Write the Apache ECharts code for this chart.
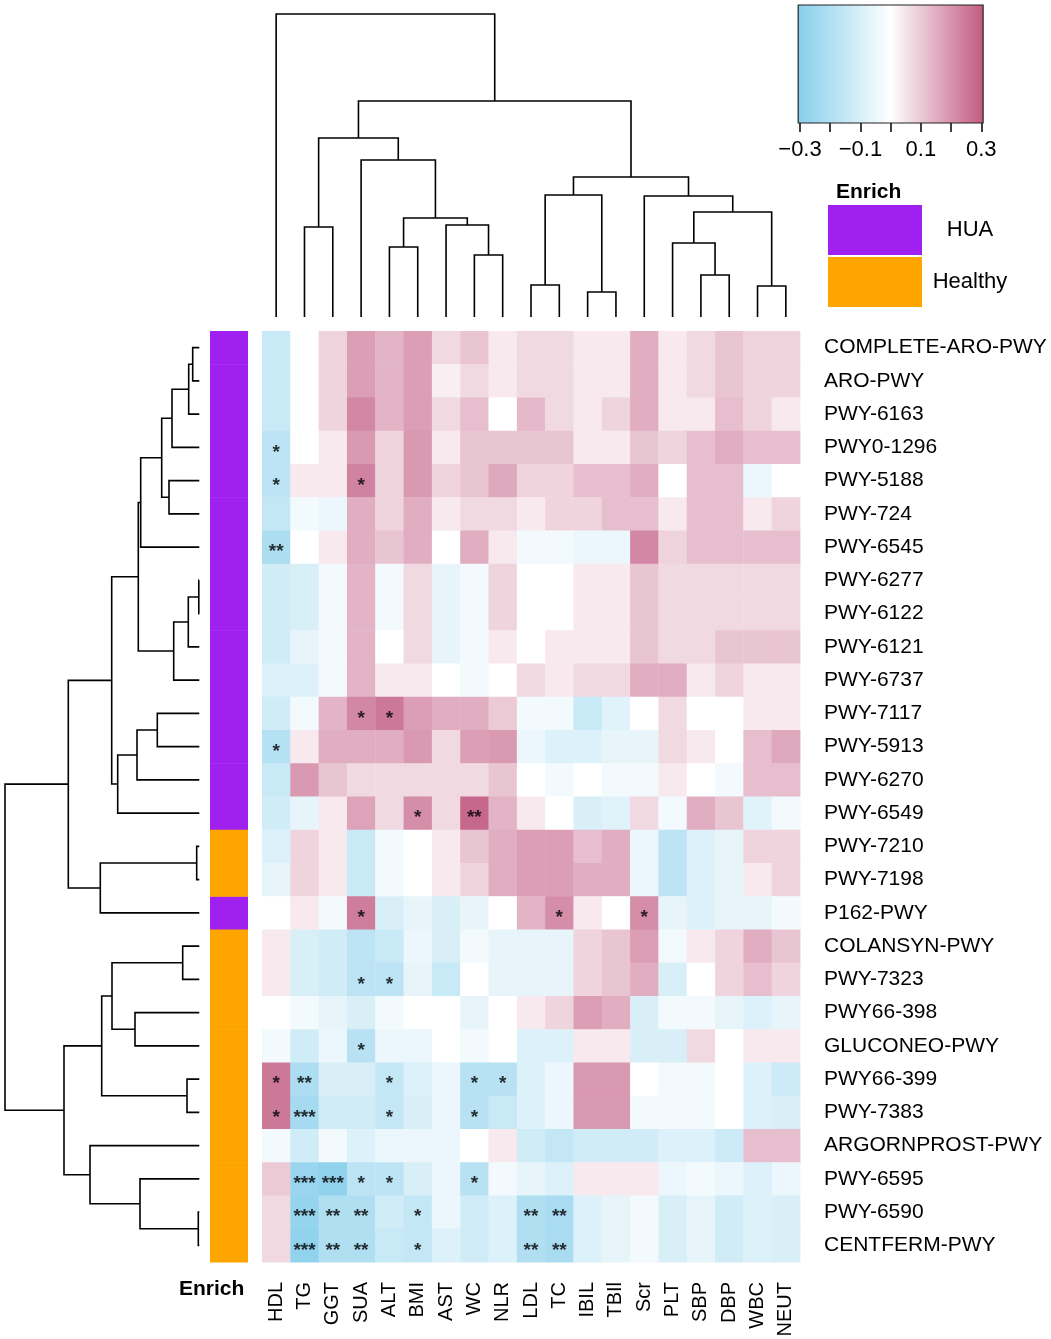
<!DOCTYPE html>
<html><head><meta charset="utf-8">
<script src="https://cdn.jsdelivr.net/npm/echarts/dist/echarts.min.js"></script>
<style>html,body{margin:0;padding:0;background:#fff}#c{width:1051px;height:1339px}</style>
</head><body><div id="c"></div>
<script>
const columns = ['HDL','TG','GGT','SUA','ALT','BMI','AST','WC','NLR','LDL','TC','IBIL','TBIl','Scr','PLT','SBP','DBP','WBC','NEUT'];
const pathways = ['COMPLETE-ARO-PWY','ARO-PWY','PWY-6163','PWY0-1296','PWY-5188','PWY-724','PWY-6545','PWY-6277','PWY-6122','PWY-6121','PWY-6737','PWY-7117','PWY-5913','PWY-6270','PWY-6549','PWY-7210','PWY-7198','P162-PWY','COLANSYN-PWY','PWY-7323','PWY66-398','GLUCONEO-PWY','PWY66-399','PWY-7383','ARGORNPROST-PWY','PWY-6595','PWY-6590','CENTFERM-PWY'];
const enrich = ['HUA','HUA','HUA','HUA','HUA','HUA','HUA','HUA','HUA','HUA','HUA','HUA','HUA','HUA','HUA','Healthy','Healthy','HUA','Healthy','Healthy','Healthy','Healthy','Healthy','Healthy','Healthy','Healthy','Healthy','Healthy'];
const enrichGroups = ['HUA','Healthy'];
const enrichColors = ['#A020F0','#FFA500'];

// correlation values, one row per pathway, columns in the order above
const values = [
 [-0.14, 0, 0.08, 0.18, 0.14, 0.18, 0.07, 0.11, 0.04, 0.07, 0.07, 0.04, 0.04, 0.15, 0.04, 0.07, 0.11, 0.08, 0.08],
 [-0.14, 0, 0.08, 0.18, 0.14, 0.18, 0.03, 0.07, 0.04, 0.07, 0.07, 0.04, 0.04, 0.15, 0.04, 0.07, 0.11, 0.08, 0.08],
 [-0.14, 0, 0.08, 0.22, 0.14, 0.18, 0.07, 0.12, 0, 0.13, 0.07, 0.04, 0.08, 0.15, 0.04, 0.04, 0.12, 0.08, 0.04],
 [-0.17, 0, 0.04, 0.19, 0.08, 0.19, 0.04, 0.11, 0.11, 0.11, 0.11, 0.04, 0.04, 0.11, 0.08, 0.12, 0.15, 0.12, 0.12],
 [-0.17, 0.04, 0.04, 0.23, 0.08, 0.19, 0.08, 0.11, 0.16, 0.08, 0.08, 0.12, 0.12, 0.15, 0, 0.12, 0.12, -0.05, 0],
 [-0.15, -0.03, -0.05, 0.15, 0.08, 0.15, 0.04, 0.07, 0.07, 0.04, 0.08, 0.08, 0.12, 0.12, 0.04, 0.12, 0.12, 0.04, 0.08],
 [-0.21, 0, 0.04, 0.15, 0.11, 0.15, 0, 0.15, 0.04, -0.03, -0.03, -0.05, -0.05, 0.22, 0.08, 0.12, 0.12, 0.12, 0.12],
 [-0.12, -0.1, -0.03, 0.14, -0.03, 0.07, -0.06, -0.03, 0.08, 0, 0, 0.04, 0.04, 0.11, 0.07, 0.07, 0.07, 0.07, 0.07],
 [-0.12, -0.1, -0.03, 0.14, -0.03, 0.07, -0.06, -0.03, 0.08, 0, 0, 0.04, 0.04, 0.11, 0.07, 0.07, 0.07, 0.07, 0.07],
 [-0.12, -0.06, -0.03, 0.14, 0, 0.07, -0.06, -0.03, 0.04, 0, 0.04, 0.04, 0.04, 0.11, 0.07, 0.07, 0.11, 0.11, 0.11],
 [-0.09, -0.09, -0.03, 0.14, 0.04, 0.04, 0, -0.03, 0, 0.07, 0.04, 0.07, 0.07, 0.15, 0.15, 0.04, 0.08, 0.04, 0.04],
 [-0.12, -0.03, 0.14, 0.22, 0.25, 0.18, 0.15, 0.15, 0.1, -0.03, -0.03, -0.14, -0.08, 0, 0.07, 0, 0, 0.04, 0.04],
 [-0.19, 0.04, 0.15, 0.15, 0.15, 0.19, 0.07, 0.18, 0.19, -0.05, -0.09, -0.09, -0.06, -0.06, 0.07, 0.04, 0, 0.12, 0.16],
 [-0.14, 0.19, 0.11, 0.07, 0.07, 0.07, 0.07, 0.07, 0.11, 0, -0.03, 0, -0.03, -0.03, 0.04, 0, -0.03, 0.12, 0.12],
 [-0.12, -0.06, 0.04, 0.17, 0.07, 0.21, 0.07, 0.28, 0.14, 0.04, 0, -0.1, -0.08, 0.07, -0.03, 0.15, 0.11, -0.08, -0.03],
 [-0.09, 0.08, 0.04, -0.14, -0.03, 0, 0.04, 0.11, 0.15, 0.18, 0.18, 0.12, 0.15, -0.05, -0.17, -0.09, -0.06, 0.08, 0.08],
 [-0.06, 0.08, 0.04, -0.14, -0.03, 0, 0.04, 0.08, 0.15, 0.18, 0.18, 0.15, 0.15, -0.05, -0.17, -0.09, -0.06, 0.04, 0.08],
 [0, 0.04, -0.03, 0.24, -0.1, -0.06, -0.1, -0.06, 0, 0.14, 0.21, 0.04, 0, 0.21, -0.06, -0.09, -0.06, -0.06, -0.03],
 [0.04, -0.1, -0.12, -0.17, -0.14, -0.05, -0.1, -0.03, -0.06, -0.06, -0.06, 0.08, 0.11, 0.18, -0.03, 0.04, 0.08, 0.15, 0.11],
 [0.04, -0.1, -0.12, -0.17, -0.17, -0.06, -0.14, 0, -0.06, -0.06, -0.06, 0.08, 0.11, 0.15, -0.1, 0, 0.08, 0.12, 0.08],
 [0, -0.03, -0.06, -0.1, -0.03, 0, 0, -0.06, 0, 0.04, 0.08, 0.18, 0.15, -0.1, -0.03, -0.03, -0.06, -0.09, -0.06],
 [-0.03, -0.12, -0.05, -0.18, -0.05, -0.05, 0, -0.03, 0, -0.09, -0.09, 0.04, 0.04, -0.1, -0.1, 0.07, 0, 0.04, 0.04],
 [0.25, -0.21, -0.1, -0.1, -0.15, -0.09, -0.05, -0.18, -0.18, -0.09, -0.05, 0.19, 0.19, 0, -0.03, -0.03, 0, -0.09, -0.13],
 [0.25, -0.23, -0.12, -0.12, -0.15, -0.1, -0.05, -0.18, -0.14, -0.09, -0.05, 0.19, 0.19, -0.03, -0.03, -0.03, 0, -0.09, -0.1],
 [-0.03, -0.12, -0.03, -0.09, -0.05, -0.05, -0.05, 0, 0.04, -0.12, -0.15, -0.12, -0.12, -0.12, -0.09, -0.09, -0.13, 0.12, 0.12],
 [0.1, -0.26, -0.28, -0.17, -0.17, -0.1, -0.05, -0.18, -0.03, -0.06, -0.09, 0.04, 0.04, 0.04, -0.05, -0.03, -0.05, -0.09, -0.05],
 [0.07, -0.27, -0.2, -0.2, -0.12, -0.15, -0.05, -0.12, -0.09, -0.2, -0.22, -0.09, -0.06, -0.03, -0.1, -0.06, -0.12, -0.09, -0.1],
 [0.07, -0.28, -0.2, -0.2, -0.14, -0.15, -0.09, -0.12, -0.09, -0.2, -0.22, -0.09, -0.06, -0.03, -0.1, -0.06, -0.12, -0.09, -0.1]
];

// significance marks: [pathway, column, mark]
const stars = [
 ['PWY0-1296','HDL','*'],
 ['PWY-5188','HDL','*'], ['PWY-5188','SUA','*'],
 ['PWY-6545','HDL','**'],
 ['PWY-7117','SUA','*'], ['PWY-7117','ALT','*'],
 ['PWY-5913','HDL','*'],
 ['PWY-6549','BMI','*'], ['PWY-6549','WC','**'],
 ['P162-PWY','SUA','*'], ['P162-PWY','TC','*'], ['P162-PWY','Scr','*'],
 ['PWY-7323','SUA','*'], ['PWY-7323','ALT','*'],
 ['GLUCONEO-PWY','SUA','*'],
 ['PWY66-399','HDL','*'], ['PWY66-399','TG','**'], ['PWY66-399','ALT','*'], ['PWY66-399','WC','*'], ['PWY66-399','NLR','*'],
 ['PWY-7383','HDL','*'], ['PWY-7383','TG','***'], ['PWY-7383','ALT','*'], ['PWY-7383','WC','*'],
 ['PWY-6595','TG','***'], ['PWY-6595','GGT','***'], ['PWY-6595','SUA','*'], ['PWY-6595','ALT','*'], ['PWY-6595','WC','*'],
 ['PWY-6590','TG','***'], ['PWY-6590','GGT','**'], ['PWY-6590','SUA','**'], ['PWY-6590','BMI','*'], ['PWY-6590','LDL','**'], ['PWY-6590','TC','**'],
 ['CENTFERM-PWY','TG','***'], ['CENTFERM-PWY','GGT','**'], ['CENTFERM-PWY','SUA','**'], ['CENTFERM-PWY','BMI','*'], ['CENTFERM-PWY','LDL','**'], ['CENTFERM-PWY','TC','**']
];

// column clustering: [childA, childB, height]; children are names or 'm#' (1-based merge)
const colMerges = [
 ['IBIL','TBIl',0.25], ['WBC','NEUT',0.31], ['LDL','TC',0.32], ['SBP','DBP',0.42],
 ['WC','NLR',0.62], ['ALT','BMI',0.70], ['PLT','m4',0.74], ['TG','GGT',0.90],
 ['AST','m5',0.92], ['m6','m9',0.99], ['m7','m2',1.05], ['Scr','m11',1.21],
 ['m3','m1',1.22], ['m13','m12',1.40], ['SUA','m10',1.57], ['m8','m15',1.79],
 ['m16','m14',2.16], ['HDL','m17',3.03]
];
// row clustering
const rowMerges = [
 ['PWY-6277','PWY-6122',0.005], ['PWY-6590','CENTFERM-PWY',0.01], ['PWY-7210','PWY-7198',0.026],
 ['COMPLETE-ARO-PWY','ARO-PWY',0.066], ['m4','PWY-6163',0.106], ['m1','PWY-6121',0.11],
 ['PWY66-399','PWY-7383',0.123], ['COLANSYN-PWY','PWY-7323',0.166], ['m6','PWY-6737',0.256],
 ['m5','PWY0-1296',0.273], ['PWY-5188','PWY-724',0.303], ['m10','m11',0.376],
 ['PWY-7117','PWY-5913',0.42], ['m12','PWY-6545',0.586], ['PWY-6595','m2',0.593],
 ['m14','m9',0.61], ['m13','PWY-6270',0.623], ['PWY66-398','GLUCONEO-PWY',0.643],
 ['m17','PWY-6549',0.816], ['m8','m18',0.873], ['m16','m19',0.876],
 ['m20','m7',0.976], ['m3','P162-PWY',0.99], ['ARGORNPROST-PWY','m15',1.093],
 ['m21','m23',1.31], ['m22','m24',1.353], ['m25','m26',1.943]
];

const colorbarRange = [-0.306, 0.306];
const colorbarLabels = [-0.3, -0.1, 0.1, 0.3];

const BLUE = [135,206,235], RED = [193,90,128];
function colorAt(v){
  const t = Math.max(-1, Math.min(1, v / colorbarRange[1]));
  const end = t < 0 ? BLUE : RED, a = Math.abs(t);
  return 'rgb(' + end.map(e => Math.round(255 + (e - 255) * a)).join(',') + ')';
}

function buildDendro(merges, leaves){
  const pos = {};
  leaves.forEach((n,i) => pos[n] = {p:i, h:0});
  const segs = [];
  function resolve(k){
    if (pos[k]) return pos[k];
    const m = merges[+k.slice(1) - 1];
    const a = resolve(m[0]), b = resolve(m[1]);
    segs.push([a.p, a.h, b.p, b.h, m[2]]);
    return (pos[k] = {p:(a.p + b.p) / 2, h:m[2]});
  }
  merges.forEach((m,i) => resolve('m' + (i + 1)));
  return segs;
}
const colSegs = buildDendro(colMerges, columns);
const rowSegs = buildDendro(rowMerges, pathways);

const heatData = [];
values.forEach((row, r) => row.forEach((v, c) => heatData.push([c, r, v])));

const FONT = '"Liberation Sans", Arial, Helvetica, sans-serif';
const chart = echarts.init(document.getElementById('c'), null, {renderer:'canvas'});

const hidden = {show:false};
const option = {
  animation:false,
  backgroundColor:'#fff',
  textStyle:{fontFamily:FONT, color:'#000'},
  title:[
    {text:'Enrich', left:836, top:182, padding:0, textStyle:{fontSize:21, fontWeight:'bold', color:'#000', fontFamily:FONT}},
    {text:'Enrich', left:179, top:1279, padding:0, textStyle:{fontSize:21, fontWeight:'bold', color:'#000', fontFamily:FONT}}
  ],
  legend:{
    data:enrichGroups, orient:'vertical', left:828, top:205, padding:0,
    itemWidth:94, itemHeight:50, itemGap:2, icon:'rect', selectedMode:false,
    formatter:name => '{t|' + name + '}',
    textStyle:{fontSize:22, color:'#000', fontFamily:FONT,
      rich:{t:{fontSize:22, color:'#000', fontFamily:FONT, width:86, align:'center'}}}
  },
  grid:[
    {left:262, top:331, width:538, height:931, outerBoundsMode:'none', containLabel:false},
    {left:210, top:331, width:38, height:931, outerBoundsMode:'none', containLabel:false},
    {left:262, top:14, width:538, height:303, outerBoundsMode:'none', containLabel:false},
    {left:5, top:331, width:194.3, height:931, outerBoundsMode:'none', containLabel:false},
    {left:800, top:5, width:181.3, height:118, outerBoundsMode:'none', containLabel:false}
  ],
  xAxis:[
    {gridIndex:0, type:'category', data:columns, position:'bottom',
     axisLine:hidden, axisTick:hidden, splitLine:hidden,
     axisLabel:{rotate:90, fontSize:20, color:'#000', margin:20, interval:0, fontFamily:FONT}},
    {gridIndex:1, type:'category', data:['Enrich'], show:false},
    {gridIndex:2, type:'value', min:-0.5, max:columns.length - 0.5, show:false},
    {gridIndex:3, type:'value', min:0, max:1.943, inverse:true, show:false},
    {gridIndex:4, type:'value', min:-0.3, max:0.3, interval:0.1, position:'bottom',
     axisLine:hidden, splitLine:hidden,
     axisTick:{show:true, length:9, inside:false, lineStyle:{color:'#000', width:1.5}},
     axisLabel:{fontSize:22, color:'#000', margin:16, fontFamily:FONT,
       formatter:v => { const r = Math.round(v * 10) / 10;
         return colorbarLabels.includes(r) ? (r < 0 ? '\u2212' : '') + Math.abs(r).toFixed(1) : ''; }}}
  ],
  yAxis:[
    {gridIndex:0, type:'category', data:pathways, inverse:true, position:'right',
     axisLine:hidden, axisTick:hidden, splitLine:hidden,
     axisLabel:{fontSize:21, color:'#000', margin:24, interval:0, fontFamily:FONT}},
    {gridIndex:1, type:'category', data:pathways, inverse:true, show:false},
    {gridIndex:2, type:'value', min:0, max:3.03, show:false},
    {gridIndex:3, type:'value', min:-0.5, max:pathways.length - 0.5, inverse:true, show:false},
    {gridIndex:4, type:'value', min:0, max:1, show:false}
  ],
  series:[
    {type:'custom', name:'heat', xAxisIndex:0, yAxisIndex:0, silent:true, data:heatData,
     renderItem:(params, api) => {
       const c = api.coord([api.value(0), api.value(1)]);
       const s = api.size([1, 1]);
       return {type:'rect', shape:{x:c[0] - s[0] / 2, y:c[1] - s[1] / 2, width:s[0] + 0.4, height:s[1] + 0.4},
               style:{fill:colorAt(api.value(2))}};
     }},
    {type:'scatter', name:'stars', xAxisIndex:0, yAxisIndex:0, silent:true,
     data:stars.map(s => [s[1], s[0], s[2]]), symbolSize:1,
     itemStyle:{color:'rgba(0,0,0,0)'},
     label:{show:true, position:'inside', formatter:p => p.value[2], fontSize:19, fontWeight:'bold', color:'#000', offset:[0, 5], fontFamily:FONT}},
    ...enrichGroups.map((g, gi) => ({
      type:'custom', name:g, xAxisIndex:1, yAxisIndex:1, silent:true,
      itemStyle:{color:enrichColors[gi]},
      data:pathways.map((p, i) => enrich[i] === g ? [0, i] : null).filter(d => d),
      renderItem:(params, api) => {
        const c = api.coord([api.value(0), api.value(1)]);
        const s = api.size([1, 1]);
        return {type:'rect', shape:{x:c[0] - s[0] / 2, y:c[1] - s[1] / 2, width:s[0], height:s[1] + 0.4},
                style:{fill:api.visual('color')}};
      }})),
    {type:'custom', name:'colDendro', xAxisIndex:2, yAxisIndex:2, silent:true, clip:false, data:colSegs,
     renderItem:(params, api) => {
       const ap = api.value(0), ah = api.value(1), bp = api.value(2), bh = api.value(3), h = api.value(4);
       return {type:'polyline', shape:{points:[api.coord([ap, ah]), api.coord([ap, h]), api.coord([bp, h]), api.coord([bp, bh])]},
               style:{stroke:'#000', lineWidth:1.6, fill:null}};
     }},
    {type:'custom', name:'rowDendro', xAxisIndex:3, yAxisIndex:3, silent:true, clip:false, data:rowSegs,
     renderItem:(params, api) => {
       const ap = api.value(0), ah = api.value(1), bp = api.value(2), bh = api.value(3), h = api.value(4);
       return {type:'polyline', shape:{points:[api.coord([ah, ap]), api.coord([h, ap]), api.coord([h, bp]), api.coord([bh, bp])]},
               style:{stroke:'#000', lineWidth:1.6, fill:null}};
     }},
    {type:'custom', name:'colorbar', xAxisIndex:4, yAxisIndex:4, silent:true, clip:false,
     data:[[colorbarRange[0], colorbarRange[1]]],
     renderItem:(params, api) => {
       const p0 = api.coord([api.value(0), 1]), p1 = api.coord([api.value(1), 0]);
       return {type:'rect', shape:{x:p0[0], y:p0[1], width:p1[0] - p0[0], height:p1[1] - p0[1]},
               style:{stroke:'#222', lineWidth:1.2,
                 fill:new echarts.graphic.LinearGradient(0, 0, 1, 0, [
                   {offset:0, color:colorAt(colorbarRange[0])},
                   {offset:0.5, color:'#ffffff'},
                   {offset:1, color:colorAt(colorbarRange[1])}])}};
     }}
  ]
};
chart.setOption(option);
</script>
</body></html>
